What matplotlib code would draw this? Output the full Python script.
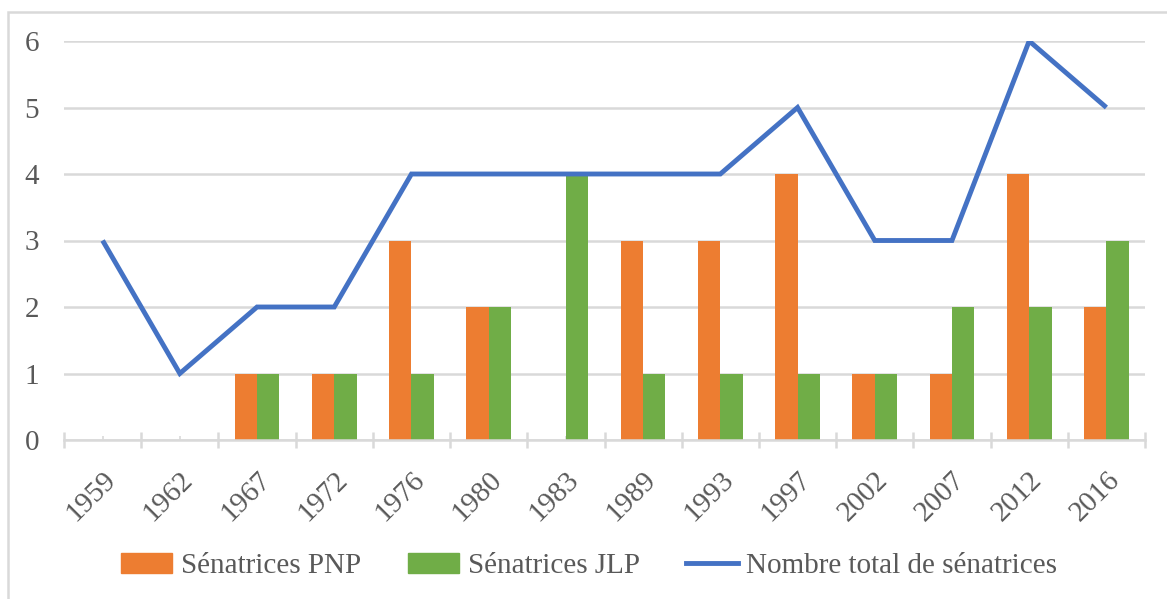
import matplotlib
matplotlib.use("Agg")
import matplotlib.pyplot as plt
from matplotlib.patches import Rectangle
from matplotlib.lines import Line2D
import numpy as np

years = ["1959", "1962", "1967", "1972", "1976", "1980", "1983",
         "1989", "1993", "1997", "2002", "2007", "2012", "2016"]
pnp = [0, 0, 1, 1, 3, 2, 0, 3, 3, 4, 1, 1, 4, 2]
jlp = [0, 0, 1, 1, 1, 2, 4, 1, 1, 1, 1, 2, 2, 3]
total = [3, 1, 2, 2, 4, 4, 4, 4, 4, 5, 3, 3, 6, 5]
yticks = [0, 1, 2, 3, 4, 5, 6]

C_PNP = "#ED7D31"
C_JLP = "#70AD47"
C_TOT = "#4472C4"
C_GRID = "#D9D9D9"
C_TXT = "#595959"

plt.rcParams['font.family'] = ['Liberation Serif', 'DejaVu Serif']

W, H = 1167, 599
fig = plt.figure(figsize=(W / 100, H / 100), dpi=100)
ax = fig.add_axes([64 / W, 1 - 440 / H, (1145 - 64) / W, (440 - 41) / H])

x = np.arange(len(years))
bw = 0.29
ax.bar(x - bw / 2, pnp, width=bw, color=C_PNP, zorder=2)
ax.bar(x + bw / 2, jlp, width=bw, color=C_JLP, zorder=2)
ax.plot(x, total, color=C_TOT, lw=3.5, zorder=3, solid_joinstyle='miter',
        solid_capstyle='butt')

ax.set_xlim(-0.5, len(years) - 0.5)
ax.set_ylim(0, 6)
ax.set_yticks(yticks)
ax.set_yticklabels([str(v) for v in yticks])
ax.yaxis.grid(True, color=C_GRID, lw=1.8, zorder=0)
ax.set_axisbelow(True)

for s in ['top', 'right', 'left']:
    ax.spines[s].set_visible(False)
ax.spines['bottom'].set_color(C_GRID)
ax.spines['bottom'].set_linewidth(1.8)

ax.set_xticks(x)
ax.set_xticklabels(years, rotation=45, ha='right', rotation_mode='anchor')
ax.set_xticks(np.arange(-0.5, len(years), 1.0), minor=True)
ax.tick_params(axis='x', which='major', direction='in', length=3, width=1.2,
               color=C_GRID, labelsize=21, labelcolor=C_TXT, pad=19)
ax.tick_params(axis='x', which='minor', direction='inout', length=11, width=1.8,
               color=C_GRID)
ax.tick_params(axis='y', length=0, labelsize=21, labelcolor=C_TXT, pad=18)

# outer chart frame (only left/top visible)
fig.patches.append(Rectangle((8 / W, -0.1), 1.2, 1 - 12 / H + 0.1,
                             transform=fig.transFigure, fill=False,
                             edgecolor=C_GRID, lw=1.8))

handles = [Rectangle((0, 0), 1, 1, color=C_PNP),
           Rectangle((0, 0), 1, 1, color=C_JLP),
           Line2D([0], [0], color=C_TOT, lw=3.5)]
labels = ["Sénatrices PNP", "Sénatrices JLP", "Nombre total de sénatrices"]
fig.legend(handles, labels, loc='center', bbox_to_anchor=(0.505, 1 - 566 / H),
           ncol=3, frameon=False, fontsize=21, labelcolor=C_TXT,
           handlelength=1.75, handleheight=0.7, handletextpad=0.3,
           columnspacing=1.6)

fig.savefig("out.png", dpi=100)
